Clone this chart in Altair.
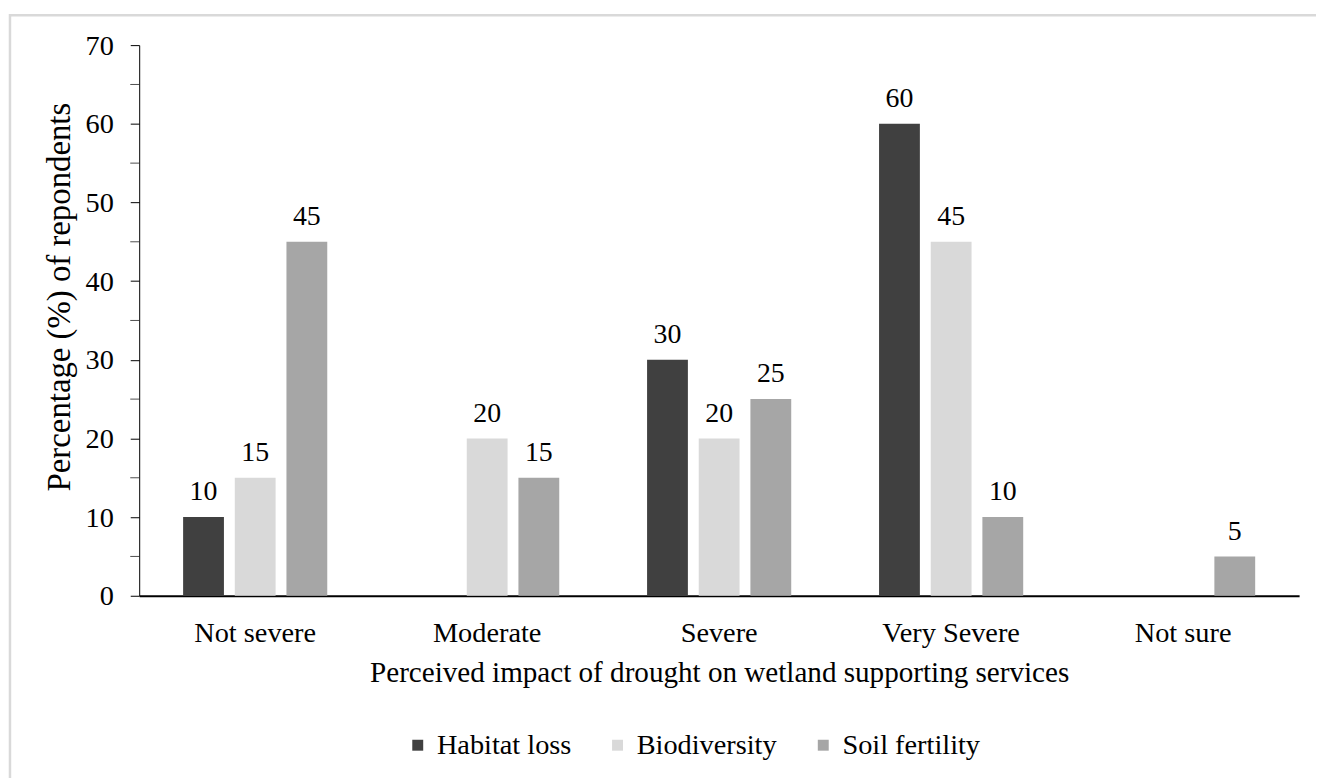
import altair as alt
import pandas as pd

categories = ["Not severe", "Moderate", "Severe", "Very Severe", "Not sure"]
series = ["Habitat loss", "Biodiversity", "Soil fertility"]
habitat_loss = [10, 0, 30, 60, 0]
biodiversity = [15, 20, 20, 45, 0]
soil_fertility = [45, 15, 25, 10, 5]
minor_ticks = [5, 15, 25, 35, 45, 55, 65]
colors = ["#404040", "#d9d9d9", "#a6a6a6"]

rows = []
for s, vals in zip(series, [habitat_loss, biodiversity, soil_fertility]):
    for c, v in zip(categories, vals):
        rows.append({"cat": c, "series": s, "value": v})
df = pd.DataFrame(rows)

FONT = "Liberation Serif"
W, H = 1167, 554

xscale = alt.Scale(paddingInner=0, paddingOuter=0)
yscale = alt.Scale(domain=[0, 70], nice=False)

xaxis = alt.Axis(title="Perceived impact of drought on wetland supporting services",
                 labelAngle=0, ticks=False, tickSize=0, domainColor="black", domainWidth=2,
                 labelBaseline="alphabetic", labelPadding=46,
                 labelFontSize=28.5, titleFontSize=29.3,
                 labelFont=FONT, titleFont=FONT,
                 titleBaseline="alphabetic", titleY=86,
                 labelColor="black", titleColor="black", titleFontWeight="normal")
yaxis = alt.Axis(title="Percentage (%) of repondents", values=list(range(0, 71, 10)),
                 grid=False, tickSize=9, tickColor="black", domainColor="black",
                 labelPadding=17, labelFontSize=28.5, titleFontSize=33,
                 labelFont=FONT, titleFont=FONT,
                 labelColor="black", titleColor="black", titleFontWeight="normal",
                 titleX=-70, titleY=253, titleBaseline="alphabetic", titleAlign="center")

xo = alt.XOffset("series:N", sort=series,
                 scale=alt.Scale(paddingInner=0.21, paddingOuter=0.85))

bars = alt.Chart(df).mark_bar(stroke=None).encode(
    x=alt.X("cat:N", sort=categories, scale=xscale, axis=xaxis),
    xOffset=xo,
    y=alt.Y("value:Q", scale=yscale, axis=yaxis),
    color=alt.Color("series:N", sort=series,
                    scale=alt.Scale(domain=series, range=colors),
                    legend=alt.Legend(title=None, orient="none", direction="horizontal",
                                      legendX=266, legendY=690, padding=0,
                                      symbolType="square",
                                      symbolSize=121, symbolStrokeWidth=0, labelFontSize=28.5,
                                      labelFont=FONT,
                                      labelColor="black", labelOffset=5, columnPadding=32,
                                      labelLimit=400)))

labels = alt.Chart(df).transform_filter("datum.value > 0").mark_text(
    baseline="alphabetic", dy=-17, fontSize=28, font=FONT, color="black").encode(
    x=alt.X("cat:N", sort=categories, scale=xscale, axis=xaxis),
    xOffset=xo,
    y=alt.Y("value:Q", scale=yscale, axis=yaxis),
    text="value:Q")

minor = alt.Chart(pd.DataFrame({"value": minor_ticks})).mark_tick(
    color="black", thickness=1, size=9).encode(
    y=alt.Y("value:Q", scale=yscale, axis=yaxis),
    x=alt.value(-4.5))

border = alt.Chart(pd.DataFrame({"a": [0]})).mark_rect(
    fill=None, stroke="#d9d9d9", strokeWidth=2.5).encode(
    x=alt.value(-130), x2=alt.value(1400), y=alt.value(-30), y2=alt.value(900))

chart = alt.layer(border, bars, labels, minor).properties(
    width=W, height=H,
    autosize=alt.AutoSizeParams(type="none"),
    padding={"left": 132, "top": 35, "right": 17, "bottom": 181},
).configure(font=FONT).configure_view(stroke=None)

chart.save("out.html", embed_options={"renderer": "svg", "actions": False})
